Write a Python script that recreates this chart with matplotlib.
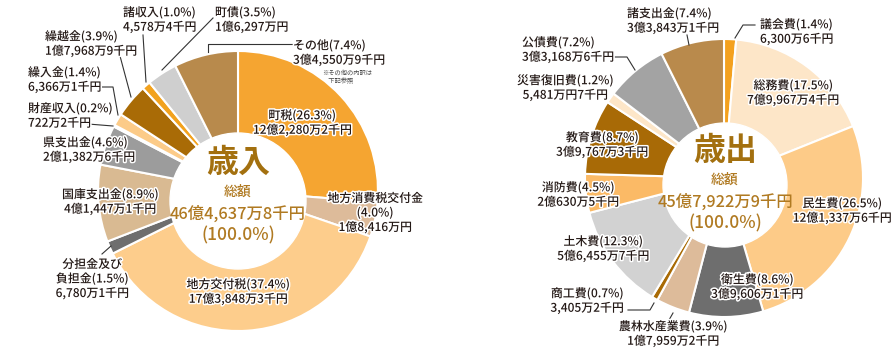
import matplotlib.pyplot as plt
import matplotlib.patheffects as pe
from matplotlib.patches import Circle

plt.rcParams['font.family'] = ['Noto Sans CJK JP', 'DejaVu Sans']

# 歳入
in_names = ['町税', '地方消費税交付金', '地方交付税', '分担金及び\n負担金', '国庫支出金', '県支出金',
            '財産収入', '繰入金', '繰越金', '諸収入', '町債', 'その他']
in_pct = [26.3, 4.0, 37.4, 1.5, 8.9, 4.6, 0.2, 1.4, 3.9, 1.0, 3.5, 7.4]
in_amount = ['12億2,280万2千円', '1億8,416万円', '17億3,848万3千円', '6,780万1千円', '4億1,447万1千円',
             '2億1,382万6千円', '722万2千円', '6,366万1千円', '1億7,968万9千円', '4,578万4千円',
             '1億6,297万円', '3億4,550万9千円']
in_colors = ['#F5A531', '#DDBB9A', '#FDCD8C', '#6E6E6E', '#D9BA92', '#9C9C9C',
             '#FCD9A8', '#FCCB88', '#A96B06', '#F2A21E', '#CFCFCF', '#B88A4C']
in_total = '46億4,637万8千円'

# 歳出
out_names = ['議会費', '総務費', '民生費', '衛生費', '農林水産業費', '商工費', '土木費', '消防費',
             '教育費', '災害復旧費', '公債費', '諸支出金']
out_pct = [1.4, 17.5, 26.5, 8.6, 3.9, 0.7, 12.3, 4.5, 8.7, 1.2, 7.2, 7.4]
out_amount = ['6,300万6千円', '7億9,967万4千円', '12億1,337万6千円', '3億9,606万1千円', '1億7,959万2千円',
              '3,405万2千円', '5億6,455万7千円', '2億630万5千円', '3億9,767万3千円', '5,481万円7千円',
              '3億3,168万6千円', '3億3,843万1千円']
out_colors = ['#F4A11E', '#FDE6C8', '#FDCB88', '#6E6E6E', '#DDBB9A', '#A96B06', '#D2D2D2', '#FBBA66',
              '#A86A06', '#FDE6C8', '#A3A3A3', '#B98A4C']
out_total = '45億7,922万9千円'

W, H = 896, 359
fig = plt.figure(figsize=(W / 100, H / 100), dpi=100)
ax = fig.add_axes([0, 0, 1, 1])


def Y(y):
    # 画像座標 -> データ座標
    return H - y


def donut(vals, colors, c, r, hole_c, hole_r):
    ax.pie(vals, colors=colors, startangle=90, counterclock=False, radius=r,
           center=(c[0], Y(c[1])), wedgeprops=dict(edgecolor='white', linewidth=1.5))
    ax.add_patch(Circle((hole_c[0], Y(hole_c[1])), hole_r, color='white', zorder=3))


donut(in_pct, in_colors, (238, 191), 140, (238, 201), 68)
donut(out_pct, out_colors, (724, 178), 139, (725, 185), 62)

stroke = [pe.withStroke(linewidth=2.2, foreground='white')]


def label(x, y, text, ha='center', size=8.6):
    ax.text(x, Y(y), text, ha=ha, va='center', fontsize=size, color='#231815',
            fontweight='medium', linespacing=1.15, path_effects=stroke, zorder=5)


def line(xs, ys):
    ax.plot(xs, [Y(v) for v in ys], color='#333333', lw=0.8, zorder=4)


# 歳入 ラベル (位置)
in_pos = [(302, 123, 'center'), (375, 213, 'center'), (238, 292, 'center'), (92, 279, 'center'),
          (110, 202, 'center'), (43, 150, 'left'), (28, 116, 'left'), (28, 80, 'left'),
          (45, 44, 'left'), (123, 20, 'left'), (215, 20, 'left'), (293, 53, 'left')]
for i, (x, y, ha) in enumerate(in_pos):
    name = in_names[i]
    if name == '地方消費税交付金':
        txt = f'{name}\n({in_pct[i]:.1f}%)\n{in_amount[i]}'
    else:
        txt = f'{name}({in_pct[i]:.1f}%)\n{in_amount[i]}'
    label(x, y, txt, ha=ha)

ax.text(322, Y(77), '※その他の内訳は\n　下記参照', fontsize=4.5, color='#444444', va='center',
        linespacing=1.0, zorder=5)

line([292, 208, 208], [44, 44, 52])
line([213, 162], [18, 70])
line([143, 146], [35, 82])
line([120, 131], [56, 97])
line([102, 113, 118], [87, 87, 115])
line([88, 113], [124, 126])
line([102, 111], [254, 246])

# 歳出 ラベル (位置)
out_pos = [(760, 32, 'left'), (793, 93, 'center'), (842, 211, 'center'), (757, 287, 'center'),
           (673, 334, 'center'), (587, 301, 'center'), (603, 249, 'center'), (578, 195, 'center'),
           (602, 145, 'center'), (565, 88, 'center'), (522, 50, 'left'), (627, 21, 'left')]
for i, (x, y, ha) in enumerate(out_pos):
    txt = f'{out_names[i]}({out_pct[i]:.1f}%)\n{out_amount[i]}'
    label(x, y, txt, ha=ha)

line([755, 743, 735], [25, 25, 38])
line([687, 689], [35, 45])
line([615, 627, 635], [57, 57, 70])
line([628, 650, 654], [310, 310, 303])
line([673, 669], [313, 320])

# 中央テキスト
brown = '#A3700F'
light_brown = '#B07A22'
for cx, cy, title, total in [(238, 0, '歳入', in_total), (725, -12, '歳出', out_total)]:
    ax.text(cx, Y(163 + cy), title, ha='center', va='center', fontsize=23, fontweight='bold',
            color=brown, zorder=6)
    ax.text(cx, Y(192 + cy), '総額', ha='center', va='center', fontsize=10, color=light_brown,
            fontweight='medium', zorder=6)
    ax.text(cx, Y(214 + cy), total, ha='center', va='center', fontsize=11.8, color=light_brown,
            fontweight='medium', zorder=6)
    ax.text(cx, Y(235 + cy), '(100.0%)', ha='center', va='center', fontsize=12.5, color=light_brown,
            fontweight='medium', zorder=6)

ax.set_xlim(0, W)
ax.set_ylim(0, H)
ax.set_aspect('equal')
ax.axis('off')

fig.savefig('out.png', dpi=100)
